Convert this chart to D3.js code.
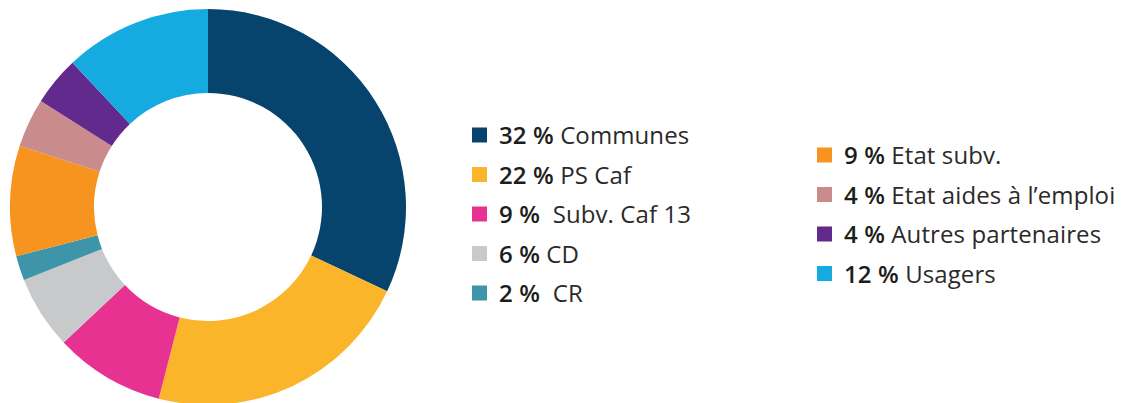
<!DOCTYPE html>
<html>
<head>
<meta charset="utf-8">
<script src="https://cdnjs.cloudflare.com/ajax/libs/d3/7.8.5/d3.min.js"></script>
<style>
  html, body { margin: 0; padding: 0; background: #fff; }
  svg { display: block; }
  .legend text { font-family: 'Open Sans', Roboto, sans-serif; font-size: 24px; fill: #2b2a29; white-space: pre; letter-spacing: 0.1px; }
  .legend .pct { font-weight: 600; fill: #1d1d1b; }
</style>
</head>
<body>
<script>
const categories = ['Communes', 'PS Caf', ' Subv. Caf 13', 'CD', ' CR', 'Etat subv.', 'Etat aides à l\u2019emploi', 'Autres partenaires', 'Usagers'];
const values = [32, 22, 9, 6, 2, 9, 4, 4, 12];
const colors = ['#07446d', '#fbb52b', '#e73291', '#c8c9cb', '#3e94a8', '#f7931f', '#c98b8c', '#632a8d', '#15abe0'];

const w = 1123, h = 403;
const cx = 208, cy = 207;
const outerR = 198, innerR = 114;

const svg = d3.select('body')
  .append('svg')
  .attr('width', w)
  .attr('height', h);

const data = categories.map((c, i) => ({ name: c, value: values[i], color: colors[i] }));

const pie = d3.pie()
  .value(d => d.value)
  .sort(null);

const arc = d3.arc()
  .innerRadius(innerR)
  .outerRadius(outerR);

svg.append('g')
  .attr('transform', 'translate(' + cx + ',' + cy + ')')
  .selectAll('path')
  .data(pie(data))
  .enter()
  .append('path')
  .attr('d', arc)
  .attr('fill', d => d.data.color);

// legend in two columns: first five on the left, the rest on the right
const columns = [
  { items: data.slice(0, 5), x: 472, y: 135 },
  { items: data.slice(5), x: 817, y: 155 }
];
const rowStep = 39.5;
const box = 15;

columns.forEach(col => {
  const rows = svg.append('g')
    .attr('class', 'legend')
    .attr('transform', 'translate(' + col.x + ',' + col.y + ')')
    .selectAll('g')
    .data(col.items)
    .enter()
    .append('g')
    .attr('transform', (d, i) => 'translate(0,' + (i * rowStep) + ')');

  rows.append('rect')
    .attr('x', 0)
    .attr('y', -box / 2)
    .attr('width', box)
    .attr('height', box)
    .attr('fill', d => d.color);

  const t = rows.append('text')
    .attr('x', 27)
    .attr('y', 9);
  t.append('tspan').attr('class', 'pct').text(d => d.value + '\u00a0%');
  t.append('tspan').text(d => ' ' + d.name);
});
</script>
</body>
</html>
